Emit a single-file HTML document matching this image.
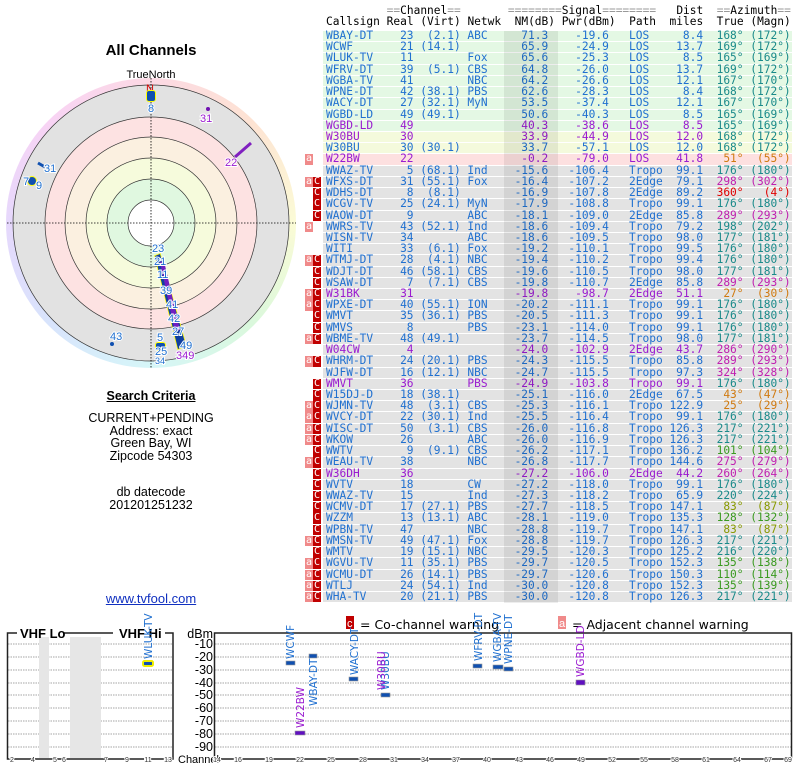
<!DOCTYPE html>
<html><head><meta charset="utf-8"><style>
body{margin:0;width:800px;height:768px;background:#fff;position:relative;overflow:hidden;font-family:"Liberation Sans",sans-serif}
.t{position:absolute;left:323px;top:31px;width:469px;font-family:"DejaVu Sans Mono",monospace;font-size:11.2px;line-height:10.22px;color:#2070d0}
.h{position:absolute;left:326px;font-family:"DejaVu Sans Mono",monospace;font-size:11.2px;white-space:pre;color:#000;line-height:11px}
.h s{text-decoration:none;color:#999}
.r{height:10.22px;margin-bottom:1px;position:relative;white-space:nowrap;background:#e3e3e3}
.g{background:#e4f8e4}.y{background:#f4fadc}.k{background:#fde0e0}
.p{color:#9a1bd0}
.r b{font-weight:normal;display:inline-block;overflow:visible}
.cs{width:9ch;padding-left:3px}.re{width:4ch;text-align:right}.vi{width:7ch;text-align:right}
.nw{width:8ch;padding-left:1ch;box-sizing:border-box}.nm{width:5ch;text-align:right}.pw{width:9ch;text-align:right}
.pa{width:9ch;padding-left:3ch;box-sizing:border-box}.di{width:5ch;text-align:right}
.tr{width:6ch;text-align:right}.mg{width:7ch;text-align:right}
.r b.tr,.r b.mg{color:#1a8a8a}
.o b.tr,.o b.mg{color:#d07a10}.m b.tr,.m b.mg{color:#c020b0}.d b.tr,.d b.mg{color:#e00000}
.n b.tr,.n b.mg{color:#3a9a20}.v b.tr,.v b.mg{color:#889900}
.fl{position:absolute;left:-18px;top:0;width:16px;height:10.22px}
.fa,.fc{position:absolute;top:0;width:8px;height:10.5px;color:#fff;font-size:10px;line-height:10px;text-align:center}
.fa{left:0;background:#f08a8a}.fc{left:8px;background:#c00000}
.band{position:absolute;left:504px;top:31px;width:54px;height:572px;background:rgba(0,0,0,0.07)}
.lt{position:absolute;left:0;width:302px;text-align:center;font-size:12.5px;color:#000}
</style></head><body>
<div class="h" style="top:5px">         <s>==</s>Channel<s>==</s>       <s>========</s>Signal<s>========</s>   Dist  <s>==</s>Azimuth<s>==</s></div>
<div class="h" style="top:16px">Callsign Real (Virt) Netwk  NM(dB) Pwr(dBm)  Path  miles  True (Magn)</div>
<div class="t">
<div class="r g"><b class=cs>WBAY-DT</b><b class=re>23</b><b class=vi>(2.1)</b><b class=nw>ABC</b><b class=nm>71.3</b><b class=pw>-19.6</b><b class=pa>LOS</b><b class=di>8.4</b><b class=tr>168°</b><b class=mg>(172°)</b></div>
<div class="r g"><b class=cs>WCWF</b><b class=re>21</b><b class=vi>(14.1)</b><b class=nw></b><b class=nm>65.9</b><b class=pw>-24.9</b><b class=pa>LOS</b><b class=di>13.7</b><b class=tr>169°</b><b class=mg>(172°)</b></div>
<div class="r g"><b class=cs>WLUK-TV</b><b class=re>11</b><b class=vi></b><b class=nw>Fox</b><b class=nm>65.6</b><b class=pw>-25.3</b><b class=pa>LOS</b><b class=di>8.5</b><b class=tr>165°</b><b class=mg>(169°)</b></div>
<div class="r g"><b class=cs>WFRV-DT</b><b class=re>39</b><b class=vi>(5.1)</b><b class=nw>CBS</b><b class=nm>64.8</b><b class=pw>-26.0</b><b class=pa>LOS</b><b class=di>13.7</b><b class=tr>169°</b><b class=mg>(172°)</b></div>
<div class="r g"><b class=cs>WGBA-TV</b><b class=re>41</b><b class=vi></b><b class=nw>NBC</b><b class=nm>64.2</b><b class=pw>-26.6</b><b class=pa>LOS</b><b class=di>12.1</b><b class=tr>167°</b><b class=mg>(170°)</b></div>
<div class="r g"><b class=cs>WPNE-DT</b><b class=re>42</b><b class=vi>(38.1)</b><b class=nw>PBS</b><b class=nm>62.6</b><b class=pw>-28.3</b><b class=pa>LOS</b><b class=di>8.4</b><b class=tr>168°</b><b class=mg>(172°)</b></div>
<div class="r g"><b class=cs>WACY-DT</b><b class=re>27</b><b class=vi>(32.1)</b><b class=nw>MyN</b><b class=nm>53.5</b><b class=pw>-37.4</b><b class=pa>LOS</b><b class=di>12.1</b><b class=tr>167°</b><b class=mg>(170°)</b></div>
<div class="r g"><b class=cs>WGBD-LD</b><b class=re>49</b><b class=vi>(49.1)</b><b class=nw></b><b class=nm>50.6</b><b class=pw>-40.3</b><b class=pa>LOS</b><b class=di>8.5</b><b class=tr>165°</b><b class=mg>(169°)</b></div>
<div class="r g p"><b class=cs>WGBD-LD</b><b class=re>49</b><b class=vi></b><b class=nw></b><b class=nm>40.3</b><b class=pw>-38.6</b><b class=pa>LOS</b><b class=di>8.5</b><b class=tr>165°</b><b class=mg>(169°)</b></div>
<div class="r y p"><b class=cs>W30BU</b><b class=re>30</b><b class=vi></b><b class=nw></b><b class=nm>33.9</b><b class=pw>-44.9</b><b class=pa>LOS</b><b class=di>12.0</b><b class=tr>168°</b><b class=mg>(172°)</b></div>
<div class="r y"><b class=cs>W30BU</b><b class=re>30</b><b class=vi>(30.1)</b><b class=nw></b><b class=nm>33.7</b><b class=pw>-57.1</b><b class=pa>LOS</b><b class=di>12.0</b><b class=tr>168°</b><b class=mg>(172°)</b></div>
<div class="r k p o"><span class=fl><span class=fa>a</span></span><b class=cs>W22BW</b><b class=re>22</b><b class=vi></b><b class=nw></b><b class=nm>-0.2</b><b class=pw>-79.0</b><b class=pa>LOS</b><b class=di>41.8</b><b class=tr>51°</b><b class=mg>(55°)</b></div>
<div class="r"><b class=cs>WWAZ-TV</b><b class=re>5</b><b class=vi>(68.1)</b><b class=nw>Ind</b><b class=nm>-15.6</b><b class=pw>-106.4</b><b class=pa>Tropo</b><b class=di>99.1</b><b class=tr>176°</b><b class=mg>(180°)</b></div>
<div class="r m"><span class=fl><span class=fa>a</span><span class=fc>C</span></span><b class=cs>WFXS-DT</b><b class=re>31</b><b class=vi>(55.1)</b><b class=nw>Fox</b><b class=nm>-16.4</b><b class=pw>-107.2</b><b class=pa>2Edge</b><b class=di>79.1</b><b class=tr>298°</b><b class=mg>(302°)</b></div>
<div class="r d"><span class=fl><span class=fc>C</span></span><b class=cs>WDHS-DT</b><b class=re>8</b><b class=vi>(8.1)</b><b class=nw></b><b class=nm>-16.9</b><b class=pw>-107.8</b><b class=pa>2Edge</b><b class=di>89.2</b><b class=tr>360°</b><b class=mg>(4°)</b></div>
<div class="r"><span class=fl><span class=fc>C</span></span><b class=cs>WCGV-TV</b><b class=re>25</b><b class=vi>(24.1)</b><b class=nw>MyN</b><b class=nm>-17.9</b><b class=pw>-108.8</b><b class=pa>Tropo</b><b class=di>99.1</b><b class=tr>176°</b><b class=mg>(180°)</b></div>
<div class="r m"><span class=fl><span class=fc>C</span></span><b class=cs>WAOW-DT</b><b class=re>9</b><b class=vi></b><b class=nw>ABC</b><b class=nm>-18.1</b><b class=pw>-109.0</b><b class=pa>2Edge</b><b class=di>85.8</b><b class=tr>289°</b><b class=mg>(293°)</b></div>
<div class="r"><span class=fl><span class=fa>a</span></span><b class=cs>WWRS-TV</b><b class=re>43</b><b class=vi>(52.1)</b><b class=nw>Ind</b><b class=nm>-18.6</b><b class=pw>-109.4</b><b class=pa>Tropo</b><b class=di>79.2</b><b class=tr>198°</b><b class=mg>(202°)</b></div>
<div class="r"><b class=cs>WISN-TV</b><b class=re>34</b><b class=vi></b><b class=nw>ABC</b><b class=nm>-18.6</b><b class=pw>-109.5</b><b class=pa>Tropo</b><b class=di>98.0</b><b class=tr>177°</b><b class=mg>(181°)</b></div>
<div class="r"><b class=cs>WITI</b><b class=re>33</b><b class=vi>(6.1)</b><b class=nw>Fox</b><b class=nm>-19.2</b><b class=pw>-110.1</b><b class=pa>Tropo</b><b class=di>99.5</b><b class=tr>176°</b><b class=mg>(180°)</b></div>
<div class="r"><span class=fl><span class=fa>a</span><span class=fc>C</span></span><b class=cs>WTMJ-DT</b><b class=re>28</b><b class=vi>(4.1)</b><b class=nw>NBC</b><b class=nm>-19.4</b><b class=pw>-110.2</b><b class=pa>Tropo</b><b class=di>99.4</b><b class=tr>176°</b><b class=mg>(180°)</b></div>
<div class="r"><span class=fl><span class=fc>C</span></span><b class=cs>WDJT-DT</b><b class=re>46</b><b class=vi>(58.1)</b><b class=nw>CBS</b><b class=nm>-19.6</b><b class=pw>-110.5</b><b class=pa>Tropo</b><b class=di>98.0</b><b class=tr>177°</b><b class=mg>(181°)</b></div>
<div class="r m"><span class=fl><span class=fc>C</span></span><b class=cs>WSAW-DT</b><b class=re>7</b><b class=vi>(7.1)</b><b class=nw>CBS</b><b class=nm>-19.8</b><b class=pw>-110.7</b><b class=pa>2Edge</b><b class=di>85.8</b><b class=tr>289°</b><b class=mg>(293°)</b></div>
<div class="r p o"><span class=fl><span class=fa>a</span><span class=fc>C</span></span><b class=cs>W31BK</b><b class=re>31</b><b class=vi></b><b class=nw></b><b class=nm>-19.8</b><b class=pw>-98.7</b><b class=pa>2Edge</b><b class=di>51.1</b><b class=tr>27°</b><b class=mg>(30°)</b></div>
<div class="r"><span class=fl><span class=fa>a</span><span class=fc>C</span></span><b class=cs>WPXE-DT</b><b class=re>40</b><b class=vi>(55.1)</b><b class=nw>ION</b><b class=nm>-20.2</b><b class=pw>-111.1</b><b class=pa>Tropo</b><b class=di>99.1</b><b class=tr>176°</b><b class=mg>(180°)</b></div>
<div class="r"><span class=fl><span class=fc>C</span></span><b class=cs>WMVT</b><b class=re>35</b><b class=vi>(36.1)</b><b class=nw>PBS</b><b class=nm>-20.5</b><b class=pw>-111.3</b><b class=pa>Tropo</b><b class=di>99.1</b><b class=tr>176°</b><b class=mg>(180°)</b></div>
<div class="r"><span class=fl><span class=fc>C</span></span><b class=cs>WMVS</b><b class=re>8</b><b class=vi></b><b class=nw>PBS</b><b class=nm>-23.1</b><b class=pw>-114.0</b><b class=pa>Tropo</b><b class=di>99.1</b><b class=tr>176°</b><b class=mg>(180°)</b></div>
<div class="r"><span class=fl><span class=fa>a</span><span class=fc>C</span></span><b class=cs>WBME-TV</b><b class=re>48</b><b class=vi>(49.1)</b><b class=nw></b><b class=nm>-23.7</b><b class=pw>-114.5</b><b class=pa>Tropo</b><b class=di>98.0</b><b class=tr>177°</b><b class=mg>(181°)</b></div>
<div class="r p m"><b class=cs>W04CW</b><b class=re>4</b><b class=vi></b><b class=nw></b><b class=nm>-24.0</b><b class=pw>-102.9</b><b class=pa>2Edge</b><b class=di>43.7</b><b class=tr>286°</b><b class=mg>(290°)</b></div>
<div class="r m"><span class=fl><span class=fa>a</span><span class=fc>C</span></span><b class=cs>WHRM-DT</b><b class=re>24</b><b class=vi>(20.1)</b><b class=nw>PBS</b><b class=nm>-24.3</b><b class=pw>-115.5</b><b class=pa>Tropo</b><b class=di>85.8</b><b class=tr>289°</b><b class=mg>(293°)</b></div>
<div class="r m"><b class=cs>WJFW-DT</b><b class=re>16</b><b class=vi>(12.1)</b><b class=nw>NBC</b><b class=nm>-24.7</b><b class=pw>-115.5</b><b class=pa>Tropo</b><b class=di>97.3</b><b class=tr>324°</b><b class=mg>(328°)</b></div>
<div class="r p"><span class=fl><span class=fc>C</span></span><b class=cs>WMVT</b><b class=re>36</b><b class=vi></b><b class=nw>PBS</b><b class=nm>-24.9</b><b class=pw>-103.8</b><b class=pa>Tropo</b><b class=di>99.1</b><b class=tr>176°</b><b class=mg>(180°)</b></div>
<div class="r o"><span class=fl><span class=fc>C</span></span><b class=cs>W15DJ-D</b><b class=re>18</b><b class=vi>(38.1)</b><b class=nw></b><b class=nm>-25.1</b><b class=pw>-116.0</b><b class=pa>2Edge</b><b class=di>67.5</b><b class=tr>43°</b><b class=mg>(47°)</b></div>
<div class="r o"><span class=fl><span class=fa>a</span><span class=fc>C</span></span><b class=cs>WJMN-TV</b><b class=re>48</b><b class=vi>(3.1)</b><b class=nw>CBS</b><b class=nm>-25.3</b><b class=pw>-116.1</b><b class=pa>Tropo</b><b class=di>122.9</b><b class=tr>25°</b><b class=mg>(29°)</b></div>
<div class="r"><span class=fl><span class=fa>a</span><span class=fc>C</span></span><b class=cs>WVCY-DT</b><b class=re>22</b><b class=vi>(30.1)</b><b class=nw>Ind</b><b class=nm>-25.5</b><b class=pw>-116.4</b><b class=pa>Tropo</b><b class=di>99.1</b><b class=tr>176°</b><b class=mg>(180°)</b></div>
<div class="r"><span class=fl><span class=fa>a</span><span class=fc>C</span></span><b class=cs>WISC-DT</b><b class=re>50</b><b class=vi>(3.1)</b><b class=nw>CBS</b><b class=nm>-26.0</b><b class=pw>-116.8</b><b class=pa>Tropo</b><b class=di>126.3</b><b class=tr>217°</b><b class=mg>(221°)</b></div>
<div class="r"><span class=fl><span class=fa>a</span><span class=fc>C</span></span><b class=cs>WKOW</b><b class=re>26</b><b class=vi></b><b class=nw>ABC</b><b class=nm>-26.0</b><b class=pw>-116.9</b><b class=pa>Tropo</b><b class=di>126.3</b><b class=tr>217°</b><b class=mg>(221°)</b></div>
<div class="r n"><span class=fl><span class=fc>C</span></span><b class=cs>WWTV</b><b class=re>9</b><b class=vi>(9.1)</b><b class=nw>CBS</b><b class=nm>-26.2</b><b class=pw>-117.1</b><b class=pa>Tropo</b><b class=di>136.2</b><b class=tr>101°</b><b class=mg>(104°)</b></div>
<div class="r m"><span class=fl><span class=fa>a</span><span class=fc>C</span></span><b class=cs>WEAU-TV</b><b class=re>38</b><b class=vi></b><b class=nw>NBC</b><b class=nm>-26.8</b><b class=pw>-117.7</b><b class=pa>Tropo</b><b class=di>144.6</b><b class=tr>275°</b><b class=mg>(279°)</b></div>
<div class="r p m"><span class=fl><span class=fc>C</span></span><b class=cs>W36DH</b><b class=re>36</b><b class=vi></b><b class=nw></b><b class=nm>-27.2</b><b class=pw>-106.0</b><b class=pa>2Edge</b><b class=di>44.2</b><b class=tr>260°</b><b class=mg>(264°)</b></div>
<div class="r"><span class=fl><span class=fc>C</span></span><b class=cs>WVTV</b><b class=re>18</b><b class=vi></b><b class=nw>CW</b><b class=nm>-27.2</b><b class=pw>-118.0</b><b class=pa>Tropo</b><b class=di>99.1</b><b class=tr>176°</b><b class=mg>(180°)</b></div>
<div class="r"><span class=fl><span class=fc>C</span></span><b class=cs>WWAZ-TV</b><b class=re>15</b><b class=vi></b><b class=nw>Ind</b><b class=nm>-27.3</b><b class=pw>-118.2</b><b class=pa>Tropo</b><b class=di>65.9</b><b class=tr>220°</b><b class=mg>(224°)</b></div>
<div class="r v"><span class=fl><span class=fc>C</span></span><b class=cs>WCMV-DT</b><b class=re>17</b><b class=vi>(27.1)</b><b class=nw>PBS</b><b class=nm>-27.7</b><b class=pw>-118.5</b><b class=pa>Tropo</b><b class=di>147.1</b><b class=tr>83°</b><b class=mg>(87°)</b></div>
<div class="r n"><span class=fl><span class=fc>C</span></span><b class=cs>WZZM</b><b class=re>13</b><b class=vi>(13.1)</b><b class=nw>ABC</b><b class=nm>-28.1</b><b class=pw>-119.0</b><b class=pa>Tropo</b><b class=di>135.3</b><b class=tr>128°</b><b class=mg>(132°)</b></div>
<div class="r v"><span class=fl><span class=fc>C</span></span><b class=cs>WPBN-TV</b><b class=re>47</b><b class=vi></b><b class=nw>NBC</b><b class=nm>-28.8</b><b class=pw>-119.7</b><b class=pa>Tropo</b><b class=di>147.1</b><b class=tr>83°</b><b class=mg>(87°)</b></div>
<div class="r"><span class=fl><span class=fa>a</span><span class=fc>C</span></span><b class=cs>WMSN-TV</b><b class=re>49</b><b class=vi>(47.1)</b><b class=nw>Fox</b><b class=nm>-28.8</b><b class=pw>-119.7</b><b class=pa>Tropo</b><b class=di>126.3</b><b class=tr>217°</b><b class=mg>(221°)</b></div>
<div class="r"><span class=fl><span class=fc>C</span></span><b class=cs>WMTV</b><b class=re>19</b><b class=vi>(15.1)</b><b class=nw>NBC</b><b class=nm>-29.5</b><b class=pw>-120.3</b><b class=pa>Tropo</b><b class=di>125.2</b><b class=tr>216°</b><b class=mg>(220°)</b></div>
<div class="r n"><span class=fl><span class=fa>a</span><span class=fc>C</span></span><b class=cs>WGVU-TV</b><b class=re>11</b><b class=vi>(35.1)</b><b class=nw>PBS</b><b class=nm>-29.7</b><b class=pw>-120.5</b><b class=pa>Tropo</b><b class=di>152.3</b><b class=tr>135°</b><b class=mg>(138°)</b></div>
<div class="r n"><span class=fl><span class=fa>a</span><span class=fc>C</span></span><b class=cs>WCMU-DT</b><b class=re>26</b><b class=vi>(14.1)</b><b class=nw>PBS</b><b class=nm>-29.7</b><b class=pw>-120.6</b><b class=pa>Tropo</b><b class=di>150.3</b><b class=tr>110°</b><b class=mg>(114°)</b></div>
<div class="r n"><span class=fl><span class=fa>a</span><span class=fc>C</span></span><b class=cs>WTLJ</b><b class=re>24</b><b class=vi>(54.1)</b><b class=nw>Ind</b><b class=nm>-30.0</b><b class=pw>-120.8</b><b class=pa>Tropo</b><b class=di>152.3</b><b class=tr>135°</b><b class=mg>(139°)</b></div>
<div class="r"><span class=fl><span class=fa>a</span><span class=fc>C</span></span><b class=cs>WHA-TV</b><b class=re>20</b><b class=vi>(21.1)</b><b class=nw>PBS</b><b class=nm>-30.0</b><b class=pw>-120.8</b><b class=pa>Tropo</b><b class=di>126.3</b><b class=tr>217°</b><b class=mg>(221°)</b></div>
</div>
<div class="band"></div>

<div class="lt" style="top:42px;font-size:15px;font-weight:bold">All Channels</div>
<div style="position:absolute;left:6px;top:78px;width:290px;height:290px;border-radius:50%;background:conic-gradient(#fcd9e4,#fde3d3 45deg,#fbfbd6 90deg,#daf8dc 135deg,#d6f6f8 180deg,#d8e4fc 225deg,#e6d8fc 270deg,#f8d4f4 315deg,#fcd9e4)"></div>
<div class="lt" style="top:389px;font-weight:bold;text-decoration:underline">Search Criteria</div>
<div class="lt" style="top:412px;line-height:12.5px">CURRENT+PENDING<br>Address: exact<br>Green Bay, WI<br>Zipcode 54303</div>
<div class="lt" style="top:486px;line-height:12.5px">db datecode<br>201201251232</div>
<div class="lt" style="top:591px;color:#1030c0;text-decoration:underline;font-size:13px">www.tvfool.com</div>

<svg width="800" height="768" style="position:absolute;left:0;top:0" font-family="Liberation Sans,sans-serif">
<text x="151" y="78" font-size="11" text-anchor="middle">TrueNorth</text>
<circle cx="151" cy="223" r="138" fill="#e2e2e2" stroke="#333" stroke-width="0.7"/>
<circle cx="151" cy="223" r="106" fill="#fde2e2" stroke="#333" stroke-width="0.7"/>
<circle cx="151" cy="223" r="86" fill="#fbf0e0" stroke="#333" stroke-width="0.7"/>
<circle cx="151" cy="223" r="65" fill="#f6fbdc" stroke="#333" stroke-width="0.7"/>
<circle cx="151" cy="223" r="44" fill="#e0f8e0" stroke="#333" stroke-width="0.7"/>
<circle cx="151" cy="223" r="23" fill="#fff" stroke="#333" stroke-width="0.7"/>
<line x1="7" y1="223" x2="296" y2="223" stroke="#000" stroke-width="0.8" stroke-dasharray="1.5,1.5"/>
<line x1="151" y1="78" x2="151" y2="368" stroke="#000" stroke-width="0.8" stroke-dasharray="1.5,1.5"/>
<g font-size="11" fill="#2070d0" stroke="#fff" stroke-width="2" paint-order="stroke">
<text x="146" y="92" fill="#d00000" stroke="none">N</text>
<rect x="147" y="91" width="8" height="10" rx="2" fill="#1050b0" stroke="#ff0" stroke-width="2"/>
<text x="148" y="112">8</text>
<circle cx="208" cy="109" r="2" fill="#7010b0" stroke="none"/>
<text x="200" y="122" fill="#9a1bd0">31</text>
<line x1="235" y1="157" x2="251" y2="143" stroke="#8020c0" stroke-width="3"/>
<text x="225" y="166" fill="#9a1bd0">22</text>
<line x1="38" y1="163" x2="45" y2="167" stroke="#1050b0" stroke-width="3"/>
<text x="44" y="172">31</text>
<circle cx="32" cy="181" r="4" fill="#1050b0" stroke="#ff0" stroke-width="2"/>
<text x="23" y="185">7</text><text x="36" y="189">9</text>
<circle cx="112" cy="344" r="2" fill="#1050b0" stroke="none"/>
<text x="110" y="340">43</text>
<polygon points="155,256 160,254 186,346 178,349" fill="#1040a0" stroke="#ff0" stroke-width="1.5"/>
<polygon points="160,262 164,261 180,330 175,332" fill="#7020c0" stroke="none"/>
<rect x="156" y="343" width="9" height="7" rx="2" fill="#1050b0" stroke="#ff0" stroke-width="2"/>
<text x="152" y="252">23</text><text x="154" y="265">21</text><text x="157" y="278">11</text>
<text x="160" y="294">39</text><text x="166" y="308">41</text><text x="168" y="322">42</text>
<text x="172" y="335">27</text><text x="180" y="349">49</text>
<text x="176" y="359" fill="#9a1bd0">349</text>
<text x="157" y="341">5</text><text x="155" y="355">25</text><text x="155" y="364" font-size="9">34</text>
</g>

<g stroke="#888" stroke-width="0.8" stroke-dasharray="1.5,1">
<line x1="8" y1="644" x2="172" y2="644"/><line x1="8" y1="657" x2="172" y2="657"/><line x1="8" y1="670" x2="172" y2="670"/><line x1="8" y1="683" x2="172" y2="683"/><line x1="8" y1="695" x2="172" y2="695"/><line x1="8" y1="708" x2="172" y2="708"/><line x1="8" y1="721" x2="172" y2="721"/><line x1="8" y1="734" x2="172" y2="734"/><line x1="8" y1="747" x2="172" y2="747"/>
<line x1="215" y1="644" x2="791" y2="644"/><line x1="215" y1="657" x2="791" y2="657"/><line x1="215" y1="670" x2="791" y2="670"/><line x1="215" y1="683" x2="791" y2="683"/><line x1="215" y1="695" x2="791" y2="695"/><line x1="215" y1="708" x2="791" y2="708"/><line x1="215" y1="721" x2="791" y2="721"/><line x1="215" y1="734" x2="791" y2="734"/><line x1="215" y1="747" x2="791" y2="747"/>
</g>
<rect x="39" y="637" width="10" height="121" fill="#e6e6e6"/>
<rect x="70" y="637" width="31" height="121" fill="#e6e6e6"/>
<g stroke="#222" stroke-width="1.5" fill="none">
<polyline points="17,633 7.5,633 7.5,759 173,759 173,633 165,633"/>
<line x1="64" y1="633" x2="113" y2="633"/>
<rect x="214.5" y="633" width="577" height="126"/>
</g>
<text x="20" y="638" font-size="13" font-weight="bold">VHF Lo</text>
<text x="119" y="638" font-size="13" font-weight="bold">VHF Hi</text>
<g font-size="12.5" text-anchor="end"><text x="213" y="638">dBm</text>
<text x="213" y="648">-10</text><text x="213" y="661">-20</text><text x="213" y="674">-30</text><text x="213" y="687">-40</text><text x="213" y="699">-50</text><text x="213" y="712">-60</text><text x="213" y="725">-70</text><text x="213" y="738">-80</text><text x="213" y="751">-90</text></g>
<text x="178" y="763" font-size="11">Channel</text>
<g font-size="7" fill="#333" text-anchor="middle" stroke="#fff" stroke-width="2" paint-order="stroke">
<text x="12" y="762">2</text><text x="33" y="762">4</text><text x="55" y="762">5</text><text x="64" y="762">6</text><text x="106" y="762">7</text><text x="127" y="762">9</text><text x="148" y="762">11</text><text x="168" y="762">13</text>
<text x="217" y="762">14</text><text x="238" y="762">16</text><text x="269" y="762">19</text><text x="300" y="762">22</text><text x="331" y="762">25</text><text x="363" y="762">28</text><text x="394" y="762">31</text><text x="425" y="762">34</text><text x="456" y="762">37</text><text x="487" y="762">40</text><text x="519" y="762">43</text><text x="550" y="762">46</text><text x="581" y="762">49</text><text x="612" y="762">52</text><text x="644" y="762">55</text><text x="675" y="762">58</text><text x="706" y="762">61</text><text x="737" y="762">64</text><text x="768" y="762">67</text><text x="788" y="762">69</text>
</g>
<rect x="346" y="616" width="8" height="13" fill="#c00000"/><text x="347" y="627" font-size="11" fill="#fff">c</text>
<text x="360" y="629" font-size="12.5" font-family="DejaVu Sans,sans-serif">= Co-channel warning</text>
<rect x="558" y="616" width="8" height="13" fill="#f08a8a"/><text x="559" y="627" font-size="11" fill="#fff">a</text>
<text x="572" y="629" font-size="12.5" font-family="DejaVu Sans,sans-serif">= Adjacent channel warning</text>
<g stroke="#999" stroke-width="0.6">
<rect x="143" y="661" width="10" height="5" rx="1.5" fill="#1050b0" stroke="#ee0" stroke-width="2"/>
<rect x="286" y="661" width="9" height="4" fill="#1050b0"/>
<rect x="309" y="654" width="8" height="4" fill="#1050b0"/>
<rect x="295" y="731" width="10" height="4" fill="#6010c0"/>
<rect x="349" y="677" width="9" height="4" fill="#1050b0"/>
<rect x="381" y="693" width="9" height="4" fill="#1050b0"/>
<rect x="473" y="664" width="9" height="4" fill="#1050b0"/>
<rect x="493" y="665" width="10" height="4" fill="#1050b0"/>
<rect x="504" y="667" width="9" height="4" fill="#1050b0"/>
<rect x="576" y="680" width="9" height="5" fill="#6010c0"/>
</g>
<g font-size="10.5" fill="#2070d0" font-family="DejaVu Sans,sans-serif">
<text transform="rotate(-90 152 659)" x="152" y="659">WLUK-TV</text>
<text transform="rotate(-90 294 659)" x="294" y="659">WCWF</text>
<text transform="rotate(-90 317 706)" x="317" y="706">WBAY-DT</text>
<text transform="rotate(-90 304 728)" x="304" y="728" fill="#9a1bd0">W22BW</text>
<text transform="rotate(-90 358 675)" x="358" y="675">WACY-DT</text>
<text transform="rotate(-90 389 690)" x="389" y="690">W30BU</text>
<text transform="rotate(-90 385 690)" x="385" y="690" fill="#9a1bd0">W30BU</text>
<text transform="rotate(-90 482 661)" x="482" y="661">WFRV-DT</text>
<text transform="rotate(-90 501 662)" x="501" y="662">WGBA-TV</text>
<text transform="rotate(-90 512 664)" x="512" y="664">WPNE-DT</text>
<text transform="rotate(-90 584 677)" x="584" y="677" fill="#9a1bd0">WGBD-LD</text>
</g>
</svg>
</body></html>
